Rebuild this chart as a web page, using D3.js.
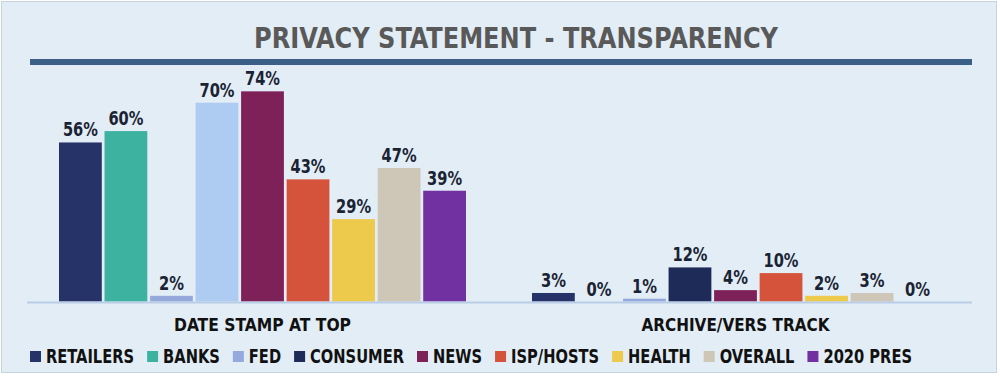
<!DOCTYPE html>
<html>
<head>
<meta charset="utf-8">
<script src="https://cdn.jsdelivr.net/npm/d3@7"></script>
<style>
  body { margin: 0; background: #fff; }
  text { font-family: "Liberation Sans Narrow", "Arial Narrow", "DejaVu Sans Condensed", sans-serif; font-weight: bold; }
</style>
</head>
<body>
<div id="chart"></div>
<script>
// data
let groups = ["DATE STAMP AT TOP", "ARCHIVE/VERS TRACK"];
let series = ["RETAILERS", "BANKS", "FED", "CONSUMER", "NEWS", "ISP/HOSTS", "HEALTH", "OVERALL", "2020 PRES"];
let dateStamp = [56, 60, 2, 70, 74, 43, 29, 47, 39];
let archive = [3, 0, 1, 12, 4, 10, 2, 3, 0];
let colors = ["#253369", "#3EB2A1", "#95A9DD", "#1E2A57", "#7E2159", "#D5533A", "#EDC94C", "#CEC6B6", "#7131A1"];
// the consumer bar in the first group is drawn light blue in the original
let firstGroupColors = ["#253369", "#3EB2A1", "#95A9DD", "#AECBF1", "#7E2159", "#D5533A", "#EDC94C", "#CEC6B6", "#7131A1"];

let svgWidth = 1000;
let svgHeight = 377;

let svg = d3.select("#chart")
    .append("svg")
    .attr("width", svgWidth)
    .attr("height", svgHeight);

// squeeze a text to a given width (the original uses a narrow font)
function squeeze(sel, w) {
    let natural = sel.node().getComputedTextLength();
    if (natural > w) {
        sel.attr("textLength", w).attr("lengthAdjust", "spacingAndGlyphs");
    }
    return sel;
}

svg.append("rect")
    .attr("x", 1.5).attr("y", 1.5)
    .attr("width", 995).attr("height", 371)
    .attr("fill", "#E2EDF5")
    .attr("stroke", "#C6D4E1");

let title = svg.append("text")
    .attr("x", 516)
    .attr("y", 48)
    .attr("text-anchor", "middle")
    .attr("font-size", 28)
    .attr("fill", "#595959")
    .text("PRIVACY STATEMENT - TRANSPARENCY");
squeeze(title, 524);

svg.append("rect")
    .attr("x", 30).attr("y", 59)
    .attr("width", 942).attr("height", 6)
    .attr("fill", "#3B6088");

let data = groups.map((g, i) => ({
    group: g,
    values: series.map((s, j) => ({
        series: s,
        value: i === 0 ? dateStamp[j] : archive[j],
        color: i === 0 ? firstGroupColors[j] : colors[j]
    }))
}));

let x0 = d3.scaleBand()
    .domain(groups)
    .range([26, 972]);

let x1 = d3.scaleBand()
    .domain(series)
    .range([33, 440])
    .paddingInner(0.06);

let y = d3.scaleLinear()
    .domain([0, 100])
    .range([301.5, 17.5]);

let groupG = svg.selectAll(".group")
    .data(data)
    .enter()
    .append("g")
    .attr("class", "group")
    .attr("transform", d => `translate(${x0(d.group)},0)`);

groupG.selectAll("rect")
    .data(d => d.values)
    .enter()
    .append("rect")
    .attr("x", d => x1(d.series))
    .attr("y", d => y(d.value))
    .attr("width", x1.bandwidth())
    .attr("height", d => y(0) - y(d.value))
    .attr("fill", d => d.color);

groupG.selectAll(".val")
    .data(d => d.values)
    .enter()
    .append("text")
    .attr("class", "val")
    .attr("x", d => x1(d.series) + x1.bandwidth() / 2)
    .attr("y", d => y(d.value) - 6)
    .attr("text-anchor", "middle")
    .attr("font-size", 19)
    .attr("fill", "#1A2333")
    .text(d => d.value + "%")
    .each(function (d) {
        squeeze(d3.select(this), d.value >= 10 ? 35 : 25);
    });

// baseline
svg.append("line")
    .attr("x1", 27).attr("x2", 972)
    .attr("y1", y(0) + 1).attr("y2", y(0) + 1)
    .attr("stroke", "#B9CDE6")
    .attr("stroke-width", 2);

// category labels
let catWidths = [177, 188];
svg.selectAll(".cat")
    .data(groups)
    .enter()
    .append("text")
    .attr("class", "cat")
    .attr("x", d => x0(d) + x0.bandwidth() / 2)
    .attr("y", 331)
    .attr("text-anchor", "middle")
    .attr("font-size", 18)
    .attr("fill", "#111")
    .text(d => d)
    .each(function (d, i) {
        squeeze(d3.select(this), catWidths[i]);
    });

// legend
let legend = svg.append("g");
let items = series.map(function (s, i) {
    let t = legend.append("text")
        .attr("y", 363)
        .attr("font-size", 19)
        .attr("fill", "#111")
        .text(s);
    return { text: t, len: t.node().getComputedTextLength(), color: colors[i] };
});
let gapSwatch = 16, gapItem = 13;
let fixed = items.length * gapSwatch + (items.length - 1) * gapItem;
let natural = d3.sum(items, d => d.len);
let k = Math.min(1, (912 - 30 - fixed) / natural);
let lx = 30;
items.forEach(function (it) {
    legend.append("rect")
        .attr("x", lx).attr("y", 351)
        .attr("width", 11).attr("height", 11)
        .attr("fill", it.color);
    let w = it.len * k;
    it.text.attr("x", lx + gapSwatch)
        .attr("textLength", w)
        .attr("lengthAdjust", "spacingAndGlyphs");
    lx += gapSwatch + w + gapItem;
});
</script>
</body>
</html>
